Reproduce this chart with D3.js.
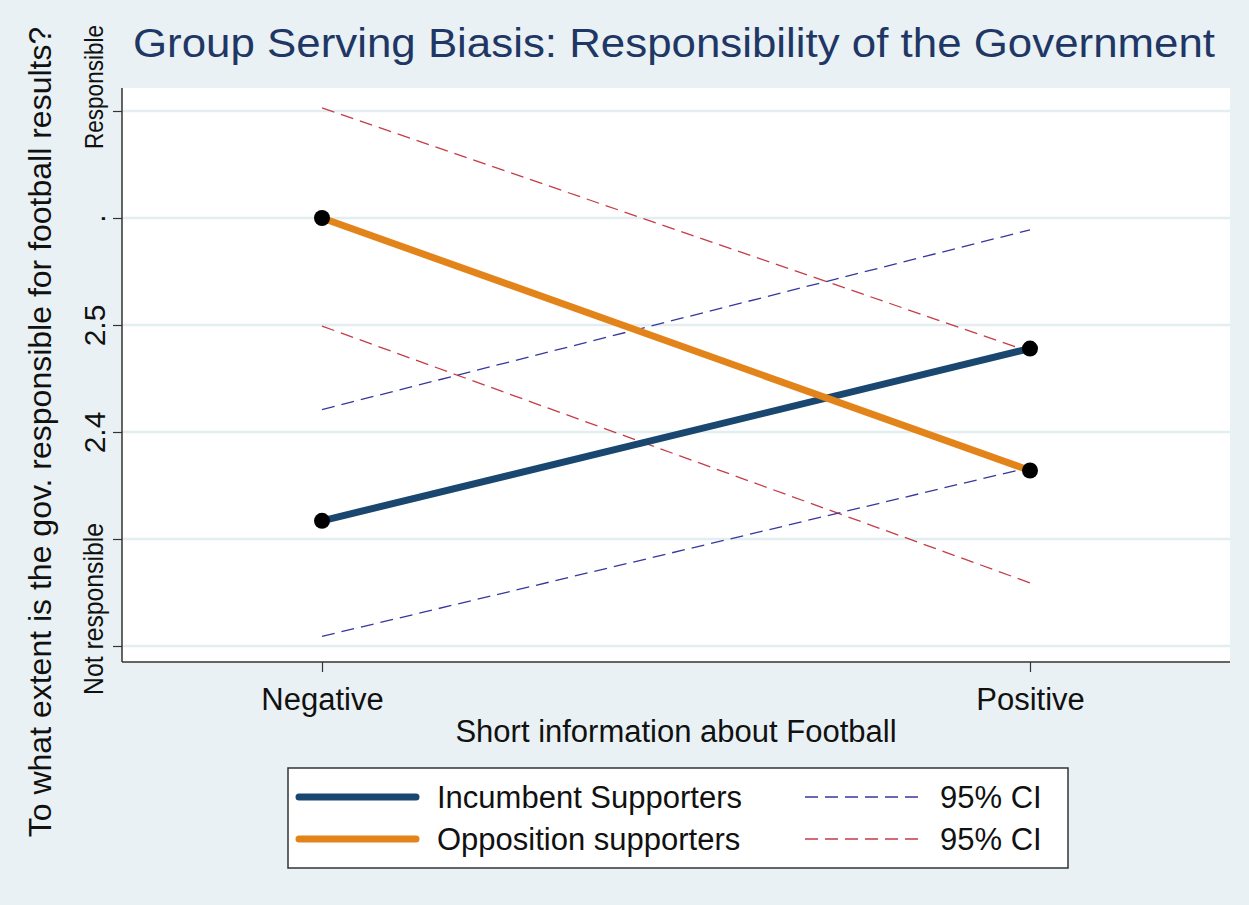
<!DOCTYPE html>
<html>
<head>
<meta charset="utf-8">
<title>Group Serving Biasis</title>
<script src="https://cdn.jsdelivr.net/npm/d3@7"></script>
<style>
  body { margin: 0; background: #eaf1f4; }
  svg { display: block; font-family: "Liberation Sans", Arial, sans-serif; }
</style>
</head>
<body>
<svg id="chart" width="1249" height="905"></svg>
<script>
// data
var categories = ["Negative", "Positive"];
var incumbent = [2.317, 2.478];
var opposition = [2.600, 2.364];
var incLow = [2.209, 2.367];
var incHigh = [2.421, 2.589];
var oppLow = [2.499, 2.259];
var oppHigh = [2.703, 2.475];
var yTicks = [2.2, 2.3, 2.4, 2.5, 2.6, 2.7];
var yTickLabels = {2.4: "2.4", 2.5: "2.5", 2.6: "."};

var svg = d3.select("#chart");
var plotLeft = 122, plotRight = 1230, plotTop = 88, plotBottom = 662;

svg.append("rect").attr("width", 1249).attr("height", 905).attr("fill", "#eaf1f4");
svg.append("rect").attr("x", plotLeft).attr("y", plotTop)
   .attr("width", plotRight - plotLeft).attr("height", plotBottom - plotTop)
   .attr("fill", "#ffffff");

var x = d3.scaleLinear().domain([-0.2825, 1.2825]).range([plotLeft, plotRight]);
var y = d3.scaleLinear().domain([2.4, 2.5]).range([432, 325]);

// gridlines
svg.append("g").selectAll("line").data(yTicks).enter().append("line")
   .attr("x1", plotLeft).attr("x2", plotRight)
   .attr("y1", function(d) { return y(d); }).attr("y2", function(d) { return y(d); })
   .attr("stroke", "#e4edf0").attr("stroke-width", 2.5);

// y axis
var yAxis = d3.axisLeft(y).tickValues(yTicks).tickSize(9).tickFormat(function(d) { return yTickLabels[d] || ""; });
var ga = svg.append("g").attr("transform", "translate(" + plotLeft + ",0)").call(yAxis);
ga.select(".domain").attr("stroke", "#333").attr("stroke-width", 1.5).attr("d", "M0," + plotTop + "V" + plotBottom);
ga.selectAll(".tick line").attr("stroke", "#333").attr("stroke-width", 1.2);
ga.selectAll(".tick text")
  .attr("font-size", 30).attr("fill", "#111").attr("font-family", "Liberation Sans, Arial, sans-serif")
  .attr("text-anchor", "middle").attr("x", null)
  .attr("transform", "translate(-28,0) rotate(-90)").attr("dy", "0.35em");

// long value labels on the y axis
svg.append("text").attr("transform", "translate(94," + (y(2.7) - 24) + ") rotate(-90)")
   .attr("text-anchor", "middle").attr("dy", "0.35em").attr("font-size", 26).attr("fill", "#111")
   .attr("textLength", 124).attr("lengthAdjust", "spacingAndGlyphs")
   .text("Responsible");
svg.append("text").attr("transform", "translate(94," + (y(2.2) - 37) + ") rotate(-90)")
   .attr("text-anchor", "middle").attr("dy", "0.35em").attr("font-size", 27).attr("fill", "#111")
   .attr("textLength", 172).attr("lengthAdjust", "spacingAndGlyphs")
   .text("Not responsible");

// x axis
var xAxis = d3.axisBottom(x).tickValues([0, 1]).tickSize(10).tickFormat(function(d) { return categories[d]; });
var gx = svg.append("g").attr("transform", "translate(0," + plotBottom + ")").call(xAxis);
gx.select(".domain").attr("stroke", "#333").attr("stroke-width", 1.5).attr("d", "M" + plotLeft + ",0H" + plotRight);
gx.selectAll(".tick line").attr("stroke", "#333").attr("stroke-width", 1.2);
gx.selectAll(".tick text").attr("font-size", 31).attr("fill", "#111")
  .attr("font-family", "Liberation Sans, Arial, sans-serif").attr("y", 48).attr("dy", null);

// titles
svg.append("text").attr("x", 133).attr("y", 57).attr("font-size", 40).attr("fill", "#1f3764")
   .attr("textLength", 1082).attr("lengthAdjust", "spacingAndGlyphs")
   .text("Group Serving Biasis: Responsibility of the Government");
svg.append("text").attr("x", (plotLeft + plotRight) / 2).attr("y", 742).attr("text-anchor", "middle")
   .attr("font-size", 31).attr("fill", "#111").text("Short information about Football");
svg.append("text").attr("transform", "translate(40,432) rotate(-90)").attr("text-anchor", "middle")
   .attr("dy", "0.35em").attr("font-size", 32).attr("fill", "#111")
   .text("To what extent is the gov. responsible for football results?");

// lines
var line = d3.line().x(function(d, i) { return x(i); }).y(function(d) { return y(d); });
var ciDash = "13,7";
[[oppHigh, "#c43c47"], [oppLow, "#c43c47"], [incHigh, "#37379c"], [incLow, "#37379c"]].forEach(function(s) {
  svg.append("path").datum(s[0]).attr("d", line).attr("fill", "none")
     .attr("stroke", s[1]).attr("stroke-width", 1.3).attr("stroke-dasharray", ciDash);
});

svg.append("path").datum(incumbent).attr("d", line).attr("fill", "none").attr("stroke", "#1a476f").attr("stroke-width", 7);
svg.append("path").datum(opposition).attr("d", line).attr("fill", "none").attr("stroke", "#e3841a").attr("stroke-width", 7);

svg.append("g").selectAll("circle").data(incumbent.concat(opposition)).enter().append("circle")
   .attr("cx", function(d, i) { return x(i % 2); }).attr("cy", function(d) { return y(d); })
   .attr("r", 8).attr("fill", "#000");

// legend
var lg = svg.append("g");
lg.append("rect").attr("x", 288).attr("y", 768).attr("width", 780).attr("height", 100)
  .attr("fill", "#fff").attr("stroke", "#333").attr("stroke-width", 1.5);
var legendRows = [
  {label: "Incumbent Supporters", color: "#1a476f", ci: "#37379c", yy: 797},
  {label: "Opposition supporters", color: "#e3841a", ci: "#c43c47", yy: 839}
];
legendRows.forEach(function(r) {
  lg.append("line").attr("x1", 299).attr("x2", 416).attr("y1", r.yy).attr("y2", r.yy)
    .attr("stroke", r.color).attr("stroke-width", 7).attr("stroke-linecap", "round");
  lg.append("text").attr("x", 437).attr("y", r.yy).attr("dy", "0.35em").attr("font-size", 31).attr("fill", "#111").text(r.label);
  lg.append("line").attr("x1", 805).attr("x2", 922).attr("y1", r.yy).attr("y2", r.yy)
    .attr("stroke", r.ci).attr("stroke-width", 1.3).attr("stroke-dasharray", ciDash);
  lg.append("text").attr("x", 940).attr("y", r.yy).attr("dy", "0.35em").attr("font-size", 31).attr("fill", "#111").text("95% CI");
});
</script>
</body>
</html>
